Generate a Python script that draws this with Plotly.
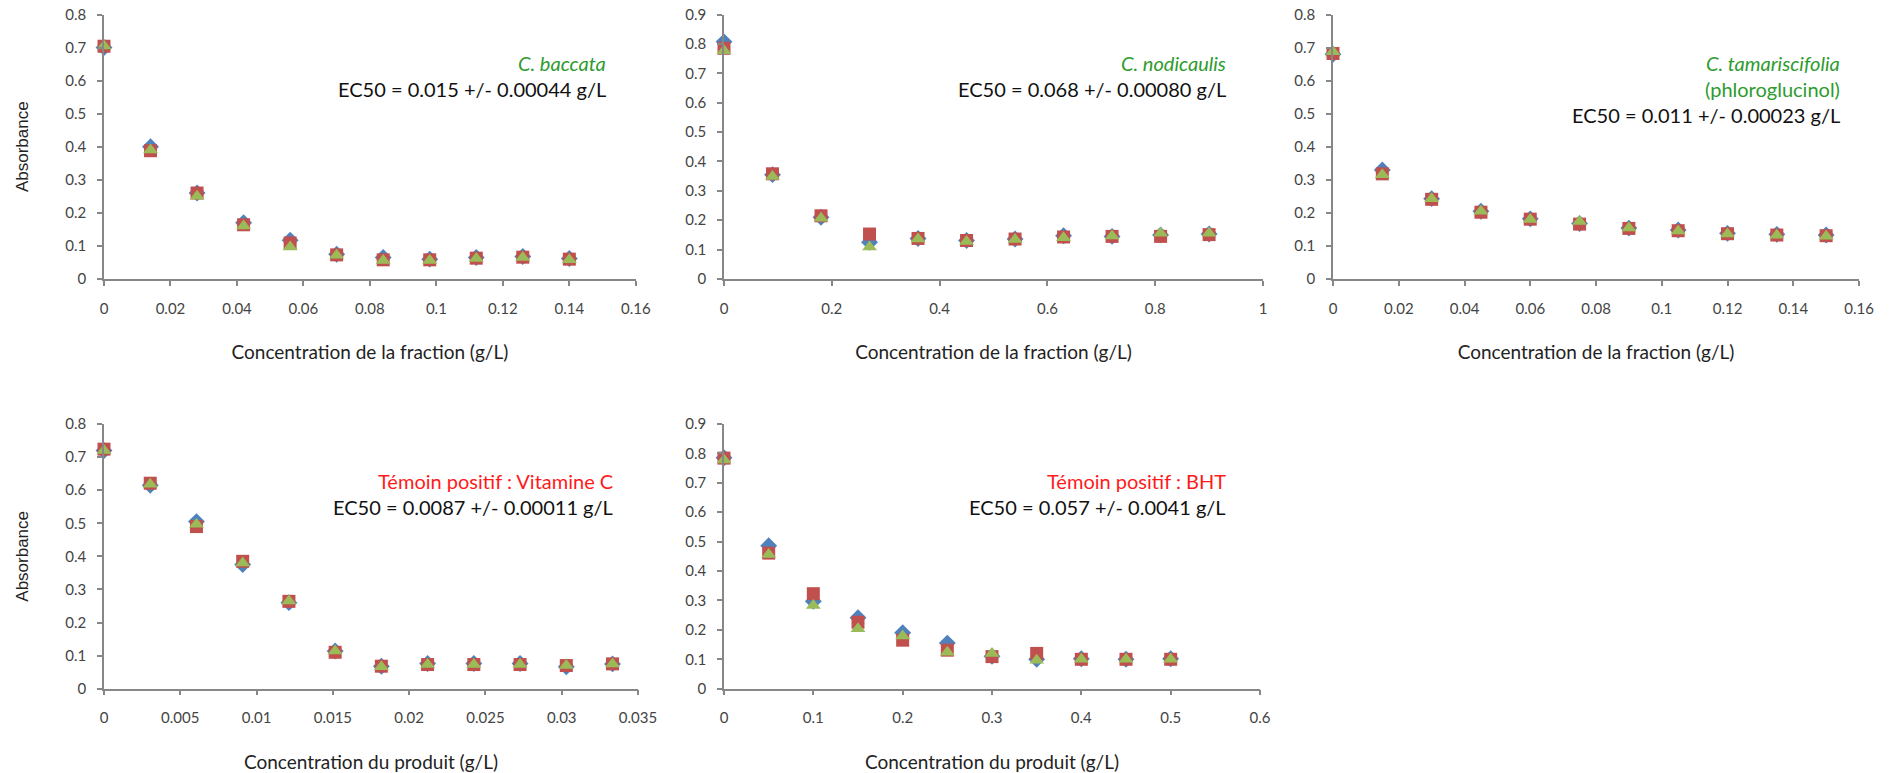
import plotly.graph_objects as go

# the page's body margin is removed (post_script), so page px == figure px
OX, OY = 0, 0
W, H = 1899, 773

# ---------- data ----------
x_bac = [0, 0.014, 0.028, 0.042, 0.056, 0.07, 0.084, 0.098, 0.112, 0.126, 0.14]
bac_d = [0.70, 0.40, 0.26, 0.17, 0.117, 0.075, 0.065, 0.06, 0.065, 0.068, 0.062]
bac_s = [0.704, 0.388, 0.26, 0.164, 0.109, 0.073, 0.058, 0.058, 0.063, 0.066, 0.06]
bac_t = [0.705, 0.39, 0.25, 0.16, 0.097, 0.072, 0.056, 0.056, 0.062, 0.065, 0.058]

x_nod = [0, 0.09, 0.18, 0.27, 0.36, 0.45, 0.54, 0.63, 0.72, 0.81, 0.9]
nod_d = [0.807, 0.355, 0.21, 0.125, 0.138, 0.131, 0.136, 0.147, 0.145, 0.15, 0.153]
nod_s = [0.785, 0.358, 0.215, 0.153, 0.138, 0.131, 0.136, 0.143, 0.145, 0.145, 0.151]
nod_t = [0.777, 0.349, 0.207, 0.109, 0.136, 0.128, 0.134, 0.14, 0.146, 0.156, 0.156]

x_tam = [0, 0.015, 0.03, 0.045, 0.06, 0.075, 0.09, 0.105, 0.12, 0.135, 0.15]
tam_d = [0.68, 0.33, 0.243, 0.205, 0.182, 0.168, 0.154, 0.148, 0.138, 0.135, 0.133]
tam_s = [0.682, 0.318, 0.241, 0.202, 0.181, 0.166, 0.153, 0.146, 0.137, 0.133, 0.131]
tam_t = [0.687, 0.315, 0.243, 0.205, 0.18, 0.174, 0.154, 0.145, 0.136, 0.132, 0.129]

x_vit = [0, 0.00303, 0.00606, 0.00909, 0.01212, 0.01515, 0.01818, 0.02121, 0.02424, 0.02727, 0.0303, 0.03333]
vit_d = [0.72, 0.615, 0.505, 0.375, 0.26, 0.114, 0.068, 0.076, 0.076, 0.076, 0.066, 0.075]
vit_s = [0.724, 0.621, 0.49, 0.385, 0.264, 0.11, 0.068, 0.073, 0.073, 0.073, 0.07, 0.075]
vit_t = [0.72, 0.618, 0.497, 0.38, 0.265, 0.114, 0.066, 0.073, 0.073, 0.073, 0.07, 0.075]

x_bht = [0, 0.05, 0.1, 0.15, 0.2, 0.25, 0.3, 0.35, 0.4, 0.45, 0.5]
bht_d = [0.785, 0.486, 0.297, 0.241, 0.19, 0.155, 0.11, 0.1, 0.102, 0.1, 0.102]
bht_s = [0.784, 0.461, 0.323, 0.226, 0.165, 0.131, 0.109, 0.12, 0.1, 0.1, 0.1]
bht_t = [0.778, 0.456, 0.283, 0.204, 0.179, 0.124, 0.12, 0.097, 0.1, 0.1, 0.1]

# ---------- style ----------
BLUE, RED, GREEN = "#4F81BD", "#C0504D", "#9BBB59"
AXC = "#878787"
FONT = "Lato"
GREEN_TXT = "#2E9B2E"
RED_TXT = "#FF1A1A"

panels = [
    (x_bac, (bac_d, bac_s, bac_t), (104, 635.8), (14.5, 279), 0.16, 0.02, 0.8,
     "Concentration de la fraction (g/L)", ["<i>C. baccata</i>"], "EC50 = 0.015 +/- 0.00044 g/L", GREEN_TXT),
    (x_nod, (nod_d, nod_s, nod_t), (724, 1263), (14.5, 279), 1.0, 0.2, 0.9,
     "Concentration de la fraction (g/L)", ["<i>C. nodicaulis</i>"], "EC50 = 0.068 +/- 0.00080 g/L", GREEN_TXT),
    (x_tam, (tam_d, tam_s, tam_t), (1333, 1859), (14.5, 279), 0.16, 0.02, 0.8,
     "Concentration de la fraction (g/L)", ["<i>C. tamariscifolia</i>", "(phloroglucinol)"],
     "EC50 = 0.011 +/- 0.00023 g/L", GREEN_TXT),
    (x_vit, (vit_d, vit_s, vit_t), (104, 638), (424, 688.7), 0.035, 0.005, 0.8,
     "Concentration du produit (g/L)", ["Témoin positif : Vitamine C"], "EC50 = 0.0087 +/- 0.00011 g/L", RED_TXT),
    (x_bht, (bht_d, bht_s, bht_t), (724, 1260), (424, 688.7), 0.6, 0.1, 0.9,
     "Concentration du produit (g/L)", ["Témoin positif : BHT"], "EC50 = 0.057 +/- 0.0041 g/L", RED_TXT),
]

# right edge px, first-line centre px for the in-plot labels (page coordinates)
label_pos = [(608, 63), (1228, 63), (1842, 63), (615, 481), (1228, 481)]
LINE_H = 26


def px(p):
    return (p - OX) / W


def py(p):
    return 1 - (p - OY) / H


fig = go.Figure()
layout = dict(
    width=W, height=H, margin=dict(l=0, r=0, t=0, b=0, autoexpand=False),
    paper_bgcolor="white", plot_bgcolor="white", showlegend=False,
    font=dict(family=FONT, color="#333333"),
)
annotations = []

for i, (xs, (yd, ys, yt), (x0, x1), (yt0, yb0), xmax, xdt, ymax, xtitle, labels, ec50, lcol) in enumerate(panels):
    n = i + 1
    xa = "x" if n == 1 else f"x{n}"
    ya = "y" if n == 1 else f"y{n}"
    for yv, sym, col, sz in ((yd, "diamond", BLUE, 13), (ys, "square", RED, 13), (yt, "triangle-up", GREEN, 13)):
        fig.add_trace(go.Scatter(
            x=xs, y=yv, mode="markers", xaxis=xa, yaxis=ya,
            marker=dict(symbol=sym, color=col, size=sz, line=dict(width=0)),
            cliponaxis=False,
        ))
    xk = "xaxis" if n == 1 else f"xaxis{n}"
    yk = "yaxis" if n == 1 else f"yaxis{n}"
    layout[xk] = dict(
        domain=[px(x0), px(x1)], anchor=ya, range=[0, xmax], dtick=xdt, tick0=0,
        automargin=False, ticklabeloverflow="allow",
        showgrid=False, zeroline=False, showline=True, linecolor=AXC, linewidth=1.5,
        ticks="outside", ticklen=5, tickcolor=AXC, tickwidth=1.5,
        tickfont=dict(size=15, color="#444444", family=FONT), ticklabelstandoff=10,
        title=dict(text=xtitle, font=dict(size=19, color="#222222", family=FONT), standoff=30),
    )
    layout[yk] = dict(
        domain=[py(yb0), py(yt0)], anchor=xa, range=[0, ymax], dtick=0.1,
        automargin=False, ticklabeloverflow="allow",
        showgrid=False, zeroline=False, showline=True, linecolor=AXC, linewidth=1.5,
        ticks="outside", ticklen=5, tickcolor=AXC, tickwidth=1.5,
        tickfont=dict(size=15, color="#444444", family=FONT), ticklabelstandoff=8,
    )
    if n in (1, 4):
        layout[yk]["title"] = dict(text="Absorbance", font=dict(size=17, color="#222222",
                                   family="Liberation Sans"), standoff=32)
    rx, ty = label_pos[i]
    for j, t in enumerate(labels):
        annotations.append(dict(
            x=px(rx), y=py(ty + j * LINE_H), xref="paper", yref="paper",
            xanchor="right", yanchor="middle", showarrow=False, text=t,
            font=dict(size=20, color=lcol, family=FONT),
        ))
    annotations.append(dict(
        x=px(rx), y=py(ty + len(labels) * LINE_H), xref="paper", yref="paper",
        xanchor="right", yanchor="middle", showarrow=False, text=ec50,
        font=dict(size=20, color="#111111", family=FONT),
    ))

layout["annotations"] = annotations
fig.update_layout(**layout)
fig.write_html(
    "out.html",
    config={"displayModeBar": False},
    post_script="document.body.style.margin='0px';document.body.style.overflow='hidden';",
)
